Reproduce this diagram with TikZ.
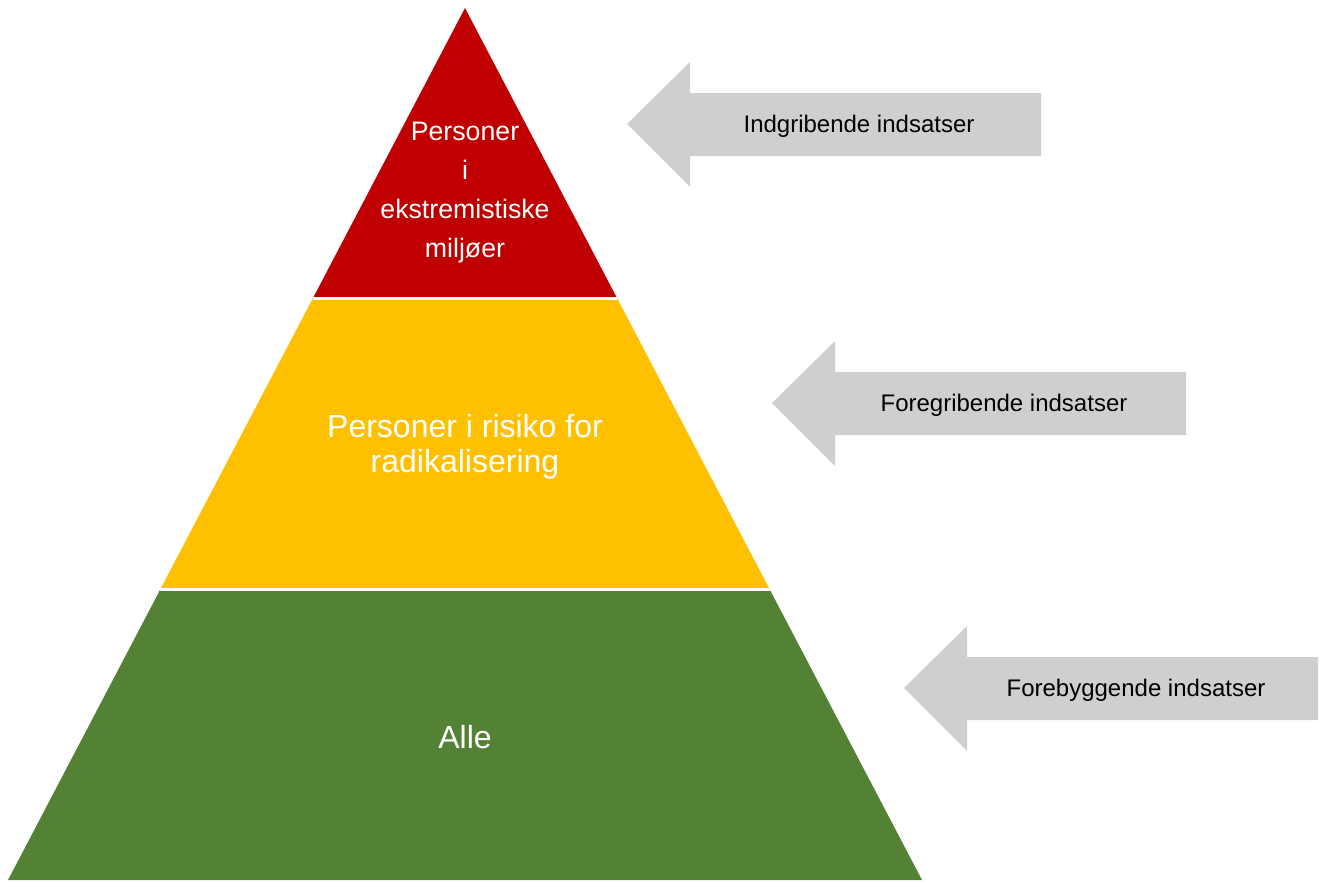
\documentclass[tikz,border=0pt]{standalone}
\usepackage{fontspec}
\setmainfont{Liberation Sans}
\usetikzlibrary{calc}

\definecolor{topred}{HTML}{C00000}
\definecolor{midyellow}{HTML}{FFC000}
\definecolor{basegreen}{HTML}{548235}
\definecolor{effortgray}{HTML}{D0CECE}

\tikzset{
  effort/.style={fill=effortgray},
  effortlabel/.style={inner sep=0pt,font=\fontsize{24}{28}\selectfont},
  layerlabel/.style={inner sep=0pt,text=white,align=center},
  gap/.style={draw=white,line width=3pt}
}

\providecommand{\Effort}[4]{
\fill[effort] (#2,#3) -- ++(63,-62) -- ++(0,31) -- ++(351,0) -- ++(0,63)
  -- ++(-351,0) -- ++(0,31) -- cycle;
\node[effortlabel] (#1) at (#2+232,#3+2) {#4};
}

\begin{document}
\begin{tikzpicture}[x=1pt,y=-1pt]
\useasboundingbox (0,0) rectangle (1325,881);

\coordinate (apex) at (465,8);
\coordinate (bl) at (8,880);
\coordinate (br) at (922,880);
\coordinate (l1) at ($(apex)!1/3!(bl)$);
\coordinate (r1) at ($(apex)!1/3!(br)$);
\coordinate (l2) at ($(apex)!2/3!(bl)$);
\coordinate (r2) at ($(apex)!2/3!(br)$);

% layers
\fill[topred] (apex) -- (r1) -- (l1) -- cycle;
\fill[midyellow] (l1) -- (r1) -- (r2) -- (l2) -- cycle;
\fill[basegreen] (l2) -- (r2) -- (br) -- (bl) -- cycle;
\draw[gap] (l1) -- (r1);
\draw[gap] (l2) -- (r2);

\node[layerlabel,font=\fontsize{26.7}{39}\selectfont] (extreme) at (465,193)
  {Personer\\i\\ekstremistiske\\miljøer};
\node[layerlabel,font=\fontsize{32}{35}\selectfont] (risk) at (465,447)
  {Personer i risiko for\\radikalisering};
\node[layerlabel,font=\fontsize{32}{38}\selectfont] (all) at (465,737) {Alle};

% efforts
\Effort{intervene}{627}{124}{Indgribende indsatser}
\Effort{anticipate}{772}{403}{Foregribende indsatser}
\Effort{prevent}{904}{688}{Forebyggende indsatser}
\end{tikzpicture}
\end{document}
